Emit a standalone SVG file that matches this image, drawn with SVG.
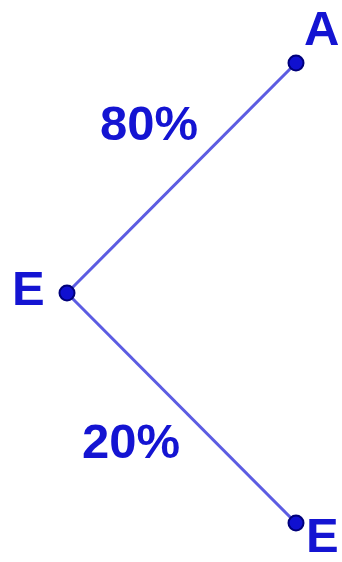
<svg xmlns="http://www.w3.org/2000/svg" width="342" height="562" viewBox="0 0 342 562">
<style>
.lbl{font-family:"Liberation Sans",Arial,sans-serif;font-weight:bold;font-size:49px;fill:#1414d2}
.pt{fill:#1010d0;stroke:#00007a;stroke-width:2}
.edge{stroke:#5c5ce2;stroke-width:3;fill:none}
</style>
<rect width="342" height="562" fill="#ffffff"/>
<g id="connectors">
<line class="edge" x1="67" y1="293" x2="296" y2="63"/>
<line class="edge" x1="67" y1="293" x2="296" y2="523"/>
</g>
<text class="lbl" x="100" y="140">80%</text>
<text class="lbl" x="82" y="458">20%</text>
<g id="A"><circle class="pt" cx="296" cy="63" r="7.5"/><text class="lbl" x="304" y="45">A</text></g>
<g id="E1"><circle class="pt" cx="67" cy="293" r="7.5"/><text class="lbl" x="12" y="305">E</text></g>
<g id="E2"><circle class="pt" cx="296" cy="523" r="7.5"/><text class="lbl" x="306" y="552">E</text></g>
</svg>
